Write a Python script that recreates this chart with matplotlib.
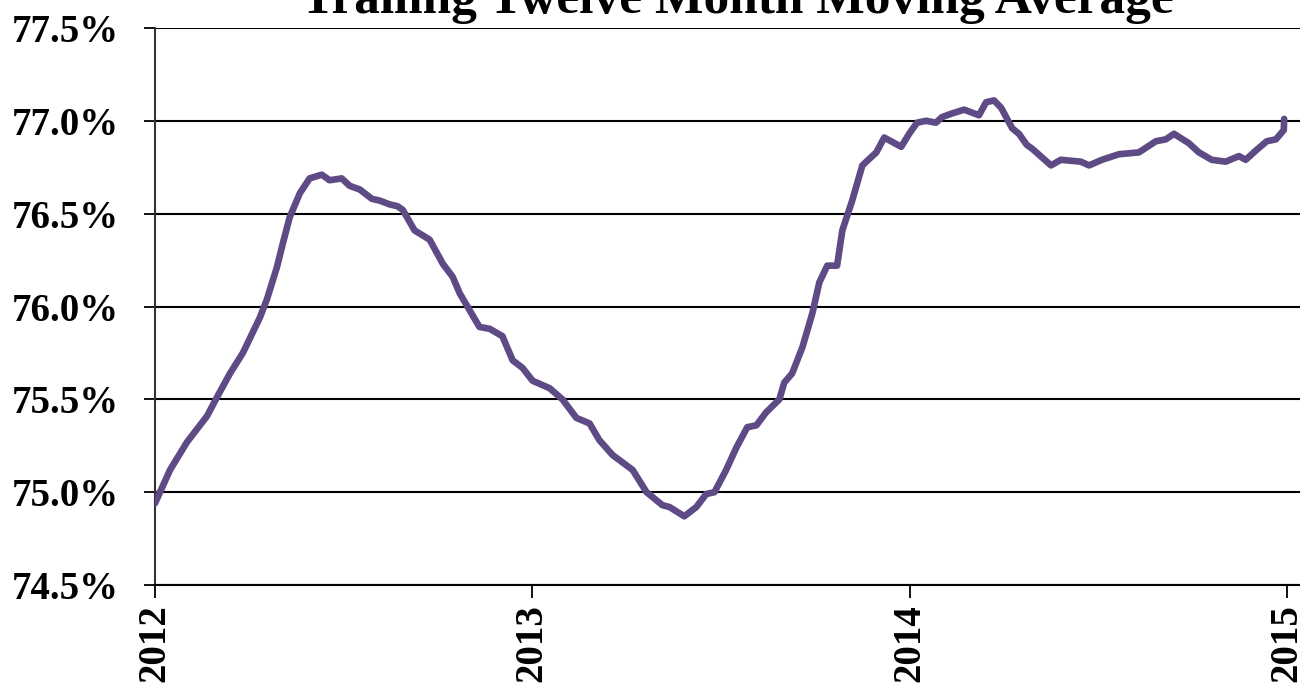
import matplotlib
matplotlib.use("Agg")
import matplotlib.pyplot as plt
import numpy as np

# data: time in years since start of 2012, value in %
t_offset = [0.000, 0.040, 0.085, 0.138, 0.164, 0.199, 0.233, 0.278, 0.297, 0.323,
            0.339, 0.357, 0.384, 0.410, 0.442, 0.463, 0.495, 0.516, 0.543, 0.575,
            0.596, 0.622, 0.643, 0.657, 0.688, 0.728, 0.763, 0.789, 0.808, 0.834,
            0.860, 0.887, 0.921, 0.948, 0.974, 1.001, 1.046, 1.080, 1.117, 1.152,
            1.178, 1.213, 1.266, 1.303, 1.345, 1.364, 1.403, 1.435, 1.461, 1.483,
            1.514, 1.541, 1.570, 1.594, 1.620, 1.655, 1.668, 1.689, 1.716, 1.742,
            1.761, 1.782, 1.808, 1.822, 1.848, 1.875, 1.912, 1.933, 1.978, 1.999,
            2.020, 2.044, 2.070, 2.086, 2.113, 2.145, 2.184, 2.203, 2.224, 2.243,
            2.272, 2.290, 2.311, 2.325, 2.375, 2.401, 2.454, 2.476, 2.510, 2.555,
            2.608, 2.653, 2.679, 2.701, 2.740, 2.767, 2.801, 2.838, 2.873, 2.891,
            2.918, 2.947, 2.971, 2.992, 2.993]
rate = [74.94, 75.12, 75.27, 75.41, 75.51, 75.64, 75.75, 75.94, 76.04, 76.21,
        76.34, 76.48, 76.61, 76.69, 76.71, 76.68, 76.69, 76.65, 76.63, 76.58,
        76.57, 76.55, 76.54, 76.52, 76.41, 76.36, 76.23, 76.16, 76.07, 75.98,
        75.89, 75.88, 75.84, 75.71, 75.67, 75.60, 75.56, 75.50, 75.40, 75.37,
        75.28, 75.20, 75.12, 75.00, 74.93, 74.92, 74.87, 74.92, 74.99, 75.00,
        75.12, 75.24, 75.35, 75.36, 75.43, 75.50, 75.59, 75.64, 75.78, 75.96,
        76.13, 76.22, 76.22, 76.41, 76.57, 76.76, 76.83, 76.91, 76.86, 76.93,
        76.99, 77.00, 76.99, 77.02, 77.04, 77.06, 77.03, 77.10, 77.11, 77.07,
        76.96, 76.93, 76.87, 76.85, 76.76, 76.79, 76.78, 76.76, 76.79, 76.82,
        76.83, 76.89, 76.90, 76.93, 76.88, 76.83, 76.79, 76.78, 76.81, 76.79,
        76.84, 76.89, 76.90, 76.95, 77.01]
start_year = 2012
year_ticks = [2012, 2013, 2014, 2015]
y_ticks = [74.5, 75.0, 75.5, 76.0, 76.5, 77.0, 77.5]
title = "Trailing Twelve Month Moving Average"

t = start_year + np.array(t_offset)

fig = plt.figure(figsize=(13, 6.89), dpi=100)
ax = fig.add_axes([0.1192, 0.1509, 0.8808, 0.8085])

for yv in y_ticks:
    ax.axhline(yv, color="black", lw=1.5, zorder=1)

ax.plot(t, rate, color="#5e4b85", lw=4.8, solid_joinstyle="round",
        solid_capstyle="round", zorder=3)

ax.set_xlim(2012, 2015.035)
ax.set_ylim(74.5, 77.5)
ax.set_xticks(year_ticks)
ax.set_xticklabels([str(y) for y in year_ticks], rotation=90,
                   family="Liberation Serif", fontweight="bold", fontsize=28)
ax.set_yticks(y_ticks)
ax.set_yticklabels(["%.1f%%" % v for v in y_ticks],
                   family="Liberation Serif", fontweight="bold", fontsize=28)

for s in ["top", "right"]:
    ax.spines[s].set_visible(False)
ax.spines["left"].set_color("#333333")
ax.spines["left"].set_linewidth(1.5)
ax.spines["bottom"].set_color("black")
ax.spines["bottom"].set_linewidth(1.5)
ax.tick_params(axis="y", direction="out", length=8, width=1.3, pad=18)
ax.tick_params(axis="x", direction="out", length=9, width=1.3, pad=5)

fig.text(0.567, 0.981, title, ha="center", va="baseline",
         family="Liberation Serif", fontweight="bold", fontsize=37)

fig.savefig("out.png", dpi=100)
